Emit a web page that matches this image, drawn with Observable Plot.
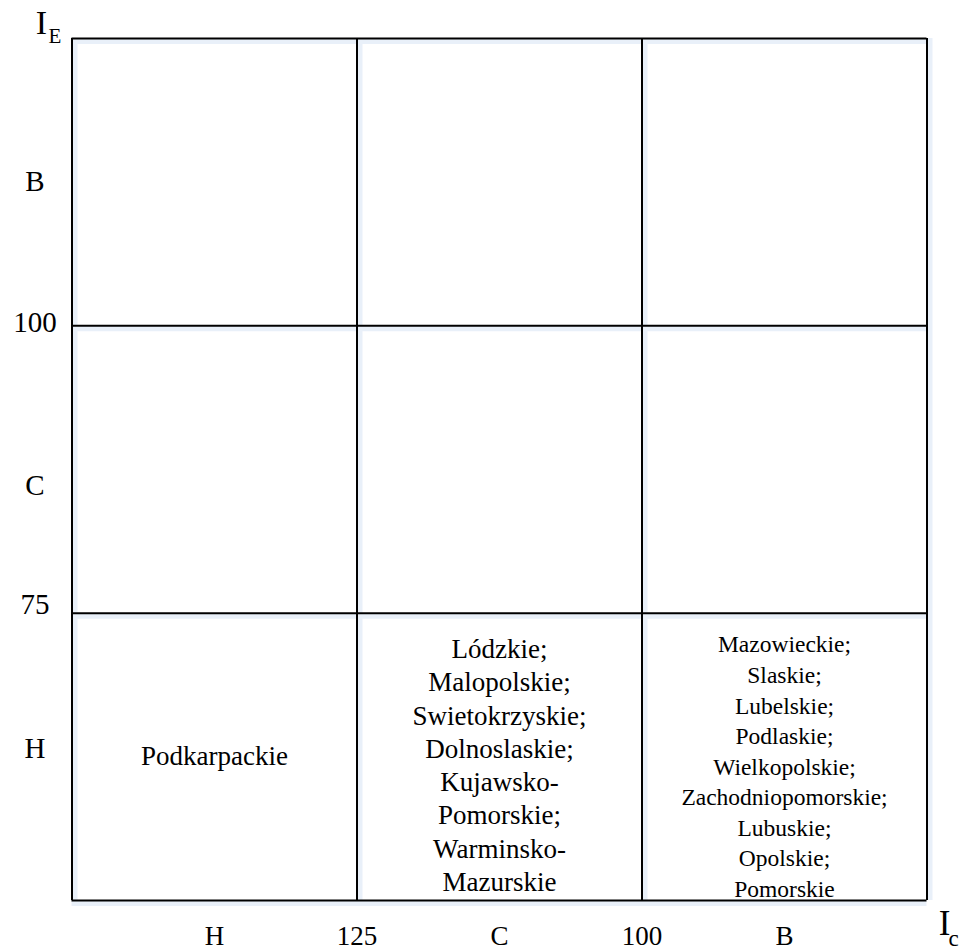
<!DOCTYPE html>
<html>
<head>
<meta charset="utf-8">
<script src="https://cdn.jsdelivr.net/npm/d3@7"></script>
<script src="https://cdn.jsdelivr.net/npm/@observablehq/plot@0.6"></script>
<style>
  html, body { margin: 0; padding: 0; background: #fff; }
  #chart svg { display: block; }
  #chart svg, #chart svg text { font-family: "Liberation Serif", "Times New Roman", "DejaVu Serif", serif !important; }
</style>
</head>
<body>
<div id="chart"></div>
<script>
// Classes along I_c (left → right) and I_E (bottom → top)
const colClasses = ["H", "C", "B"];
const rowClasses = ["H", "C", "B"];
// Threshold values between classes
const colThresholds = ["125", "100"];
const rowThresholds = ["75", "100"];
// Axis titles
const xTitle = ["I", "c"];
const yTitle = ["I", "E"];
// Regions in each cell (column class, row class)
const cellHH = ["Podkarpackie"];
const cellCH = ["Lódzkie;", "Malopolskie;", "Swietokrzyskie;", "Dolnoslaskie;", "Kujawsko-", "Pomorskie;", "Warminsko-", "Mazurskie"];
const cellBH = ["Mazowieckie;", "Slaskie;", "Lubelskie;", "Podlaskie;", "Wielkopolskie;", "Zachodniopomorskie;", "Lubuskie;", "Opolskie;", "Pomorskie"];

// Build tick tables: class labels at band centres, thresholds at band edges
const xTicks = [];
colClasses.forEach((c, i) => {
  xTicks.push({pos: i + 0.5, label: c});
  if (i < colThresholds.length) xTicks.push({pos: i + 1, label: colThresholds[i]});
});
const yTicks = [];
rowClasses.forEach((c, i) => {
  yTicks.push({pos: i + 0.5, label: c});
  if (i < rowThresholds.length) yTicks.push({pos: i + 1, label: rowThresholds[i]});
});
const xLabel = new Map(xTicks.map(d => [d.pos, d.label]));
const yLabel = new Map(yTicks.map(d => [d.pos, d.label]));
const edges = d3.range(colClasses.length + 1);
// small vertical nudges of the left labels (bottom → top order of yTicks)
const yNudge = [-8, -8.5, 16.5, -3, 0];

const cell = (col, row, lines) => [{x: colClasses.indexOf(col) + 0.5, y: rowClasses.indexOf(row) + 0.5, text: lines.join("\n")}];

const font = "'Liberation Serif', 'Times New Roman', serif";

const chart = Plot.plot({
  width: 962,
  height: 950,
  marginLeft: 71.5,
  marginRight: 35.5,
  marginTop: 38,
  marginBottom: 50,
  style: {fontFamily: font, background: "#fff", color: "#000"},
  x: {domain: [0, colClasses.length], label: null},
  y: {domain: [0, rowClasses.length], label: null},
  marks: [
    // faint bluish shadow under the grid lines
    Plot.ruleX(edges, {stroke: "#e9f0f9", strokeWidth: 5, dx: 3}),
    Plot.ruleY(edges, {stroke: "#e9f0f9", strokeWidth: 5, dy: 3}),
    Plot.ruleX(edges, {stroke: "#000", strokeWidth: 2}),
    Plot.ruleY(edges, {stroke: "#000", strokeWidth: 2}),
    Plot.axisX(xTicks.map(d => d.pos), {
      anchor: "bottom", tickSize: 0, tickPadding: 25, fontSize: 27,
      tickFormat: d => xLabel.get(d), label: null
    }),
    ...yTicks.map((t, i) => Plot.axisY([t.pos], {
      anchor: "left", tickSize: 0, tickPadding: 37, fontSize: 29, textAnchor: "middle",
      tickFormat: d => yLabel.get(d), label: null, dy: yNudge[i]
    })),
    // cell contents
    Plot.text(cell("H", "H", cellHH), {x: "x", y: "y", text: "text", fontSize: 27, fill: "#000"}),
    Plot.text(cell("C", "H", cellCH), {x: "x", y: "y", text: "text", fontSize: 27, lineHeight: 1.233, fill: "#000", dy: 7}),
    Plot.text(cell("B", "H", cellBH), {x: "x", y: "y", text: "text", fontSize: 23.5, lineHeight: 1.3, fill: "#000", dy: 8, style: "letter-spacing:0.4px"}),
    // axis titles with subscripts
    Plot.text([yTitle[0]], {frameAnchor: "top-left", text: d => d, fontSize: 34, textAnchor: "middle", lineAnchor: "bottom", dx: -30.5, dy: -5}),
    Plot.text([yTitle[1]], {frameAnchor: "top-left", text: d => d, fontSize: 21, textAnchor: "start", lineAnchor: "bottom", dx: -23.5, dy: 4}),
    Plot.text([xTitle[0]], {frameAnchor: "bottom-right", text: d => d, fontSize: 35, textAnchor: "middle", lineAnchor: "bottom", dx: 17.5, dy: 34}),
    Plot.text([xTitle[1]], {frameAnchor: "bottom-right", text: d => d, fontSize: 23, textAnchor: "start", lineAnchor: "bottom", dx: 21.5, dy: 45})
  ]
});
chart.setAttribute("font-family", font);
document.getElementById("chart").append(chart);
</script>
</body>
</html>
